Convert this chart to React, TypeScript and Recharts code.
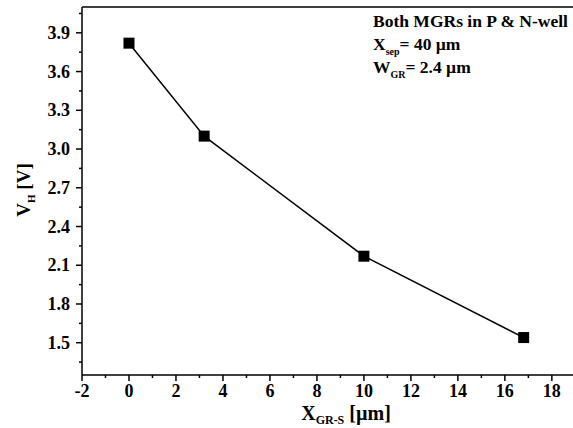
import React from 'react';
import { LineChart, Line, XAxis, YAxis, ReferenceLine } from 'recharts';

// values
const xGrS = [0, 3.2, 10, 16.8];
const vH = [3.82, 3.1, 2.17, 1.54];
const xTicks = [-2, -1, 0, 1, 2, 3, 4, 5, 6, 7, 8, 9, 10, 11, 12, 13, 14, 15, 16, 17, 18];
const yTicks = [1.35, 1.5, 1.65, 1.8, 1.95, 2.1, 2.25, 2.4, 2.55, 2.7, 2.85, 3.0, 3.15, 3.3, 3.45, 3.6, 3.75, 3.9, 4.05];
const noteLines = ['Both MGRs in P & N-well', 'X|sep|= 40 \u00b5m', 'W|GR|= 2.4 \u00b5m'];

const data = xGrS.map((x, i) => ({ x, v: vH[i] }));

const txt: React.CSSProperties = { fontFamily: 'Liberation Serif, DejaVu Serif, serif', fontWeight: 700 };

const XTick = (props: any) => {
  const { x, y, payload } = props;
  const major = Math.round(payload.value) % 2 === 0;
  return (
    <g>
      <line x1={x} x2={x} y1={y} y2={y + (major ? 6 : 3)} stroke="#000" strokeWidth={1.5} />
      {major && (
        <text x={x} y={y + 22} textAnchor="middle" style={{ ...txt, fontSize: 18 }} fill="#000">
          {payload.value}
        </text>
      )}
    </g>
  );
};

const YTick = (props: any) => {
  const { x, y, payload } = props;
  const major = Math.round(payload.value * 100) % 30 === 0;
  return (
    <g>
      <line x1={x - (major ? 6 : 3)} x2={x} y1={y} y2={y} stroke="#000" strokeWidth={1.5} />
      {major && (
        <text x={x - 12} y={y + 6} textAnchor="end" style={{ ...txt, fontSize: 18 }} fill="#000">
          {payload.value.toFixed(1)}
        </text>
      )}
    </g>
  );
};

const SquareDot = (props: any) => {
  const { cx, cy } = props;
  return <rect x={cx - 5.5} y={cy - 5.5} width={11} height={11} fill="#000" />;
};

const Note = () => (
  <svg width={573} height={428} style={{ position: 'absolute', left: 0, top: 0, pointerEvents: 'none' }}>
    {noteLines.map((line, i) => {
      const parts = line.split('|');
      return (
        <text key={i} x={373} y={27 + i * 23} style={{ ...txt, fontSize: 17.5 }} fill="#000">
          {parts.length === 1 ? (
            parts[0]
          ) : (
            <>
              <tspan>{parts[0]}</tspan>
              <tspan style={{ fontSize: 10 }} dy={5}>{parts[1]}</tspan>
              <tspan dy={-5}>{parts[2]}</tspan>
            </>
          )}
        </text>
      );
    })}
    <text x={346} y={420} textAnchor="middle" style={{ ...txt, fontSize: 20 }} fill="#000">
      <tspan>X</tspan>
      <tspan style={{ fontSize: 12 }} dy={4}>GR-S</tspan>
      <tspan dy={-4}> [{'\u00b5'}m]</tspan>
    </text>
    <text x={30} y={190} textAnchor="middle" transform="rotate(-90 30 190)" style={{ ...txt, fontSize: 19 }} fill="#000">
      <tspan>V</tspan>
      <tspan style={{ fontSize: 11 }} dy={5}>H</tspan>
      <tspan dy={-5}> [V]</tspan>
    </text>
  </svg>
);

export default function App() {
  return (
    <div style={{ position: 'absolute', left: 0, top: 0, width: 573, height: 428, overflow: 'hidden', background: '#fff' }}>
      <LineChart width={573} height={428} data={data} margin={{ top: 7, right: 0, left: 0, bottom: 0 }}>
        <XAxis
          xAxisId="b"
          type="number"
          dataKey="x"
          domain={[-2, 18.9]}
          ticks={xTicks}
          allowDataOverflow
          interval={0}
          height={53}
          tickSize={0}
          tickMargin={0}
          tickLine={false}
          axisLine={{ stroke: '#000', strokeWidth: 1.5 }}
          tick={<XTick />}
        />
        <YAxis
          yAxisId="l"
          type="number"
          domain={[1.25, 4.1]}
          ticks={yTicks}
          allowDataOverflow
          interval={0}
          width={82}
          tickSize={0}
          tickMargin={0}
          tickLine={false}
          axisLine={{ stroke: '#000', strokeWidth: 1.5 }}
          tick={<YTick />}
        />
        <ReferenceLine xAxisId="b" yAxisId="l" y={4.1} stroke="#000" strokeWidth={1.5} />
        <Line
          xAxisId="b"
          yAxisId="l"
          type="linear"
          dataKey="v"
          stroke="#000"
          strokeWidth={1.5}
          dot={<SquareDot />}
          activeDot={false}
          isAnimationActive={false}
        />
      </LineChart>
      <Note />
    </div>
  );
}
